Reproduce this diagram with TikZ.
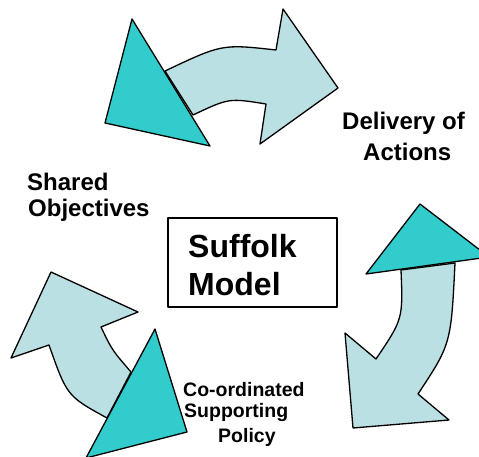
\documentclass[tikz,border=0pt]{standalone}
\usepackage{fontspec}
\setmainfont{Liberation Sans}
\usetikzlibrary{calc, positioning}
\usepackage{xcolor}
\definecolor{tealtri}{HTML}{33CCCC}
\definecolor{paleblue}{HTML}{BBE0E3}

\begin{document}
\begin{tikzpicture}[line cap=round,line join=round,x=1pt,y=-1pt,
  body/.style={fill=paleblue, draw=black, line width=1.3pt},
  tail/.style={fill=tealtri, draw=black, line width=1.3pt},
  lbl/.style={inner sep=0pt, anchor=base west, font=\bfseries\fontsize{#1}{#1}\selectfont}]
\useasboundingbox (0,0) rectangle (479,457);
\clip (0,0) rectangle (479,457);

% top arrow
\coordinate (A1) at (132,19);
\coordinate (A2) at (105,123);
\coordinate (A3) at (210,146);
\draw [body] (165,71) .. controls (222,44) .. (276,50) -- (283,9) -- (338,88)
  -- (260,144) -- (266,104) .. controls (229,98) .. (193,115) -- cycle;
\draw [tail] (A1) -- (A2) -- (A3) -- cycle;

% right arrow
\coordinate (B1) at (420,204);
\coordinate (B2) at (489,257);
\coordinate (B3) at (366,274);
\draw [body] (401,270) .. controls (403,319) .. (376,359) -- (345,333) -- (353,428)
  -- (449,420) -- (418,394) .. controls (451,344) .. (455,263) -- cycle;
\draw [tail] (B1) -- (B2) -- (B3) -- cycle;

% bottom left arrow
\coordinate (C1) at (155,329);
\coordinate (C2) at (187,432);
\coordinate (C3) at (86,458);
\draw [body] (107,418) .. controls (67,396) .. (49,345) -- (11,358) -- (51,272)
  -- (138,312) -- (101,327) .. controls (112,350) .. (131,372) -- cycle;
\draw [tail] (C1) -- (C2) -- (C3) -- cycle;

% centre box
\node [draw, line width=1.5pt, minimum width=169pt, minimum height=89pt, inner sep=0pt] (box) at (252.5,262.5) {};
\node [lbl=32] (suffolk) at (188,257) {Suffolk};
\node [lbl=32] (model) at (188,295) {Model};

% labels
\node [lbl=24] (delivery) at (342,130) {Delivery of};
\node [lbl=24] (actions) at (363,161) {Actions};
\node [lbl=24] (shared) at (27,191) {Shared};
\node [lbl=24] (objectives) at (28,216) {Objectives};
\node [lbl=19.5] (coord) at (183,396) {Co-ordinated};
\node [lbl=19.5] (supporting) at (184,417) {Supporting};
\node [lbl=19.5] (policy) at (218,442) {Policy};

\end{tikzpicture}
\end{document}
